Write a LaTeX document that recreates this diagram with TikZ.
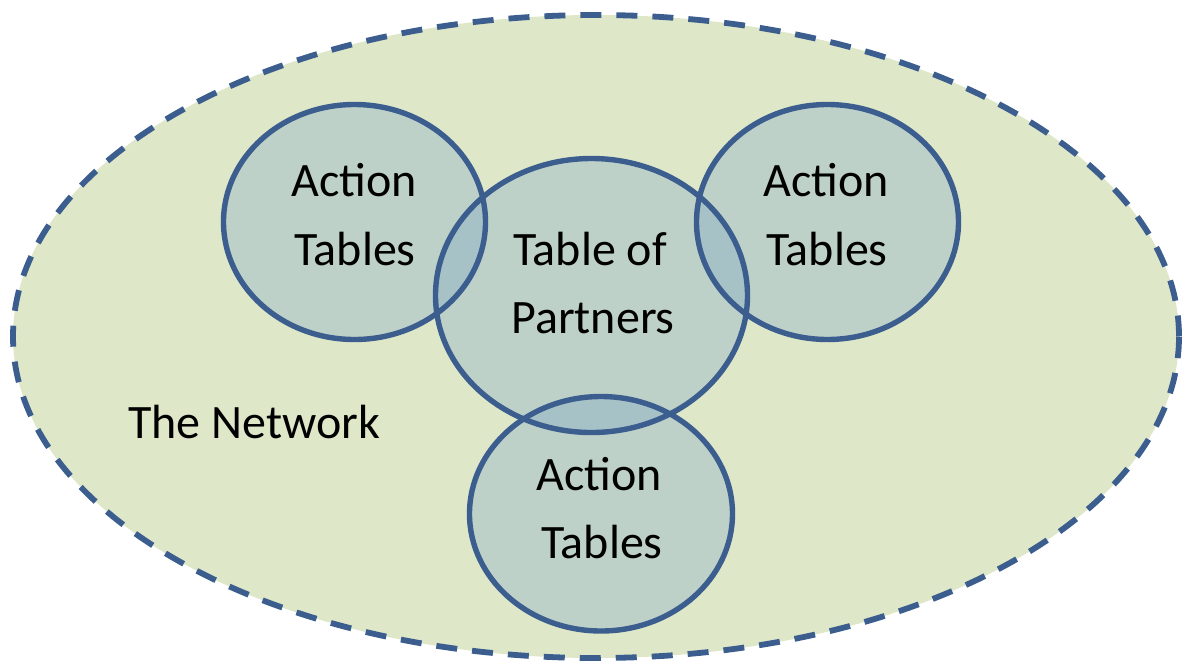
\documentclass[tikz,border=0pt]{standalone}
\usepackage{fontspec}
\setmainfont{Carlito}
\usetikzlibrary{shapes.geometric}
\definecolor{edge}{HTML}{3B5E8F}
\definecolor{netfill}{HTML}{DFE7C9}
\definecolor{blob}{HTML}{74A1C6}
\begin{document}
\begin{tikzpicture}[x=1pt,y=-1pt,
  setc/.style={ellipse, inner sep=0pt, outer sep=0pt},
  blobfill/.style={setc, fill=blob, fill opacity=0.3},
  blobline/.style={setc, draw=edge, line width=5.4pt},
  smallsize/.style={minimum width=262pt, minimum height=235pt},
  bigsize/.style={minimum width=312pt, minimum height=274pt},
  lbl/.style={font=\fontsize{48}{68}\selectfont, inner sep=0pt, anchor=base, text=black}]
\useasboundingbox (0,0) rectangle (1186,665);
% the network
\node[setc, minimum width=1166pt, minimum height=643pt, fill=netfill,
      draw=edge, line width=5.8pt, dash pattern=on 21pt off 15pt] (net) at (596,336.5) {};
% fills
\node[blobfill, smallsize] (tl) at (354.5,222) {};
\node[blobfill, bigsize] (ctr) at (591.5,295.5) {};
\node[blobfill, smallsize] (tr) at (827.5,222) {};
\node[blobfill, smallsize, minimum width=263pt, minimum height=234.5pt] (bot) at (601,513.75) {};
% outlines
\node[blobline, smallsize] (tlo) at (tl.center) {};
\node[blobline, bigsize] (ctro) at (ctr.center) {};
\node[blobline, smallsize] (tro) at (tr.center) {};
\node[blobline, smallsize, minimum width=263pt, minimum height=234.5pt] (boto) at (bot.center) {};
% labels
\node[lbl] (tl1) at (354,196) {Action};
\node[lbl] (tl2) at (355,265) {Tables};
\node[lbl] (c1) at (590,265) {Table of};
\node[lbl] (c2) at (593,333) {Partners};
\node[lbl] (tr1) at (826,196) {Action};
\node[lbl] (tr2) at (827,265) {Tables};
\node[lbl] (b1) at (599,490) {Action};
\node[lbl] (b2) at (602,558) {Tables};
\node[lbl, anchor=base west] (netlbl) at (128,438) {The Network};
\end{tikzpicture}
\end{document}
